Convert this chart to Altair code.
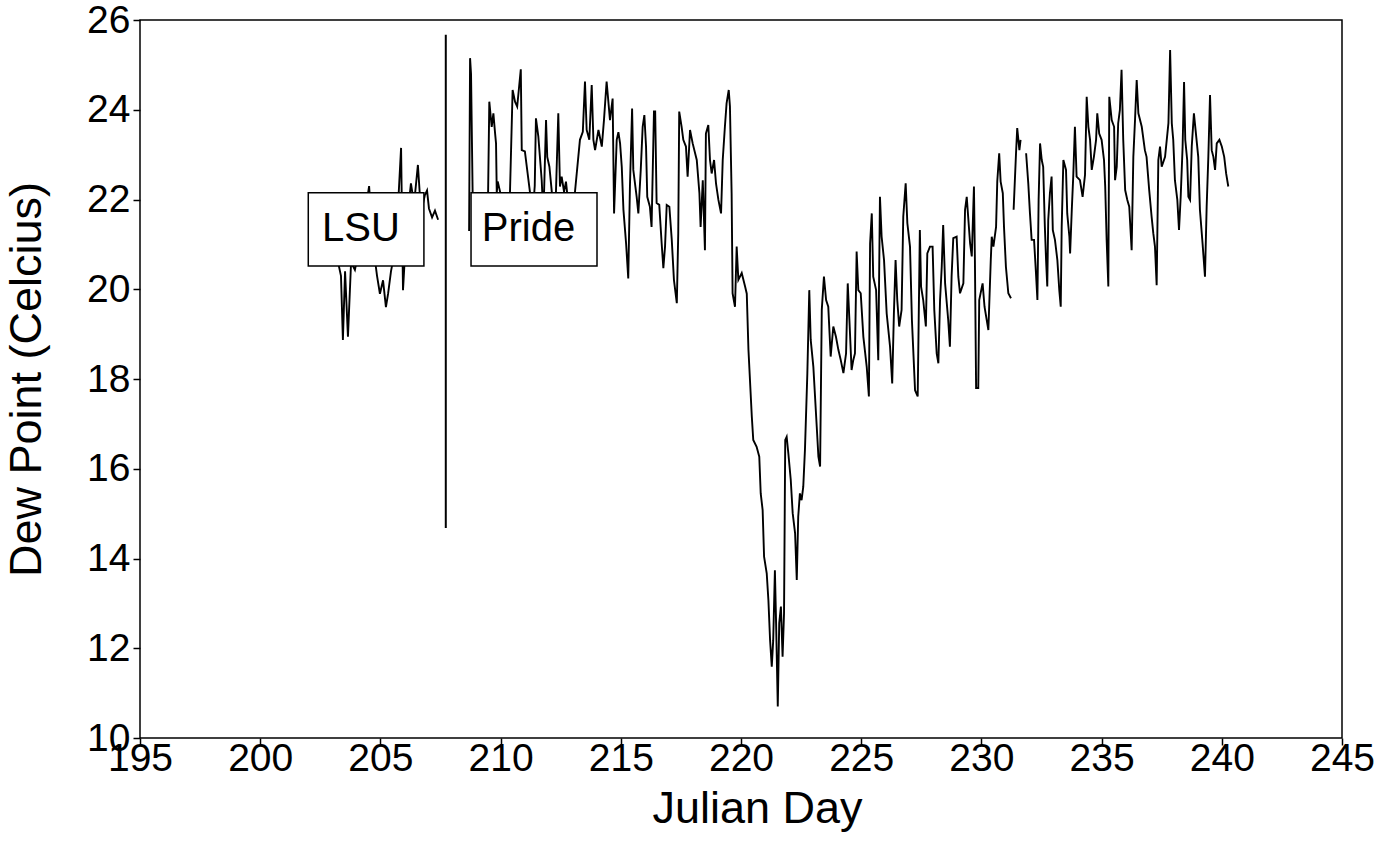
import altair as alt
import pandas as pd

# ---------------- data ----------------
lsu_day = [203.24, 203.36, 203.44, 203.53, 203.65, 203.78, 203.94, 204.23, 204.53, 204.69,
           204.86, 204.98, 205.11, 205.23, 205.32, 205.44, 205.65, 205.86, 205.94, 206.10,
           206.27, 206.40, 206.56, 206.69, 206.85, 206.94, 207.02, 207.15, 207.27, 207.40]
lsu_dp = [20.6, 20.3, 18.87, 20.4, 18.94, 20.6, 20.43, 21.2, 22.3, 21.0,
          20.3, 19.9, 20.2, 19.6, 19.9, 20.4, 21.0, 23.15, 19.98, 21.5,
          22.36, 21.9, 22.77, 21.7, 22.1, 22.2, 21.8, 21.6, 21.75, 21.55]

pride1_day = [208.69, 208.73, 208.77, 208.85, 209.06, 209.31, 209.48, 209.53, 209.63, 209.70,
              209.77, 209.81, 209.84, 209.88, 209.98, 210.18, 210.39, 210.50, 210.60, 210.69,
              210.84, 210.88, 211.01, 211.22, 211.31, 211.42, 211.47, 211.57, 211.71, 211.78,
              211.89, 211.94, 212.03, 212.13, 212.26, 212.40, 212.47, 212.54, 212.64, 212.72,
              212.89, 213.09, 213.30, 213.42, 213.51, 213.58, 213.69, 213.79, 213.86, 213.93,
              214.07, 214.21, 214.30, 214.41, 214.55, 214.66, 214.72, 214.83, 214.90, 214.97,
              215.04, 215.11, 215.22, 215.31, 215.38, 215.47, 215.52, 215.66, 215.73, 215.83,
              215.91, 215.98, 216.05, 216.10, 216.21, 216.28, 216.38, 216.43, 216.49, 216.60,
              216.70, 216.77, 216.84, 216.91, 217.02, 217.12, 217.21, 217.33, 217.39, 217.43,
              217.53, 217.60, 217.71, 217.78, 217.88, 217.99, 218.16, 218.27, 218.32, 218.41,
              218.50, 218.54, 218.64, 218.71, 218.78, 218.88, 218.96, 219.06, 219.17, 219.24,
              219.33, 219.40, 219.49, 219.54, 219.61, 219.65, 219.75, 219.82, 219.89, 220.03,
              220.17, 220.24, 220.31, 220.45, 220.51, 220.65, 220.76, 220.82, 220.90, 220.96,
              221.07, 221.14, 221.21, 221.28, 221.34, 221.41, 221.46, 221.53, 221.59, 221.66,
              221.73, 221.79, 221.84, 221.90, 221.97, 222.07, 222.15, 222.25, 222.32, 222.38,
              222.45, 222.52, 222.59, 222.66, 222.76, 222.84, 222.90, 223.01, 223.15, 223.22,
              223.29, 223.36, 223.45, 223.54, 223.63, 223.73, 223.84, 223.95, 224.05, 224.15,
              224.26, 224.37, 224.44, 224.51, 224.60, 224.67, 224.74, 224.81, 224.88, 224.98,
              225.09, 225.23, 225.32, 225.37, 225.44, 225.50, 225.62, 225.71, 225.78, 225.85,
              225.95, 226.06, 226.20, 226.29, 226.36, 226.43, 226.50, 226.58, 226.68, 226.75,
              226.85, 226.92, 227.03, 227.11, 227.24, 227.35, 227.44, 227.49, 227.58, 227.69,
              227.75, 227.86, 227.97, 228.04, 228.14, 228.21, 228.28, 228.35, 228.41, 228.49,
              228.62, 228.69, 228.76, 228.83, 228.97, 229.04, 229.11, 229.25, 229.32, 229.39,
              229.53, 229.60, 229.69, 229.73, 229.78, 229.87, 229.91, 230.05, 230.13, 230.29,
              230.39, 230.43, 230.50, 230.61, 230.66, 230.74, 230.80, 230.89, 230.94, 231.02,
              231.12, 231.23]
pride1_dp = [21.3, 25.15, 24.8, 21.6, 21.0, 21.5, 22.15, 24.18, 23.62, 23.92,
             23.48, 23.25, 22.15, 22.4, 22.17, 21.5, 22.15, 24.44, 24.18, 24.07,
             24.9, 23.1, 23.07, 22.17, 21.5, 22.3, 23.81, 23.4, 22.43, 21.6,
             23.77, 22.95, 22.73, 22.17, 21.4, 23.92, 22.29, 22.51, 22.17, 22.4,
             21.5, 22.15, 23.33, 23.51, 24.63, 23.55, 23.33, 24.55, 23.33, 23.1,
             23.55, 23.18, 23.77, 24.63, 23.77, 24.25, 21.69, 23.33, 23.5, 23.25,
             22.73, 21.77, 21.02, 20.24, 22.29, 24.03, 22.66, 22.06, 21.69, 22.66,
             23.62, 23.88, 23.18, 22.06, 21.84, 21.39, 23.96, 23.96, 21.92, 21.88,
             21.02, 20.47, 20.95, 21.88, 21.84, 21.1, 20.21, 19.69, 21.25, 23.96,
             23.62, 23.33, 23.18, 22.51, 23.55, 23.25, 22.88, 22.14, 21.39, 22.43,
             20.87, 23.47, 23.66, 22.88, 22.58, 22.88, 22.36, 21.99, 21.69, 22.88,
             23.62, 24.14, 24.44, 24.07, 22.14, 19.91, 19.61, 20.95, 20.21, 20.36,
             20.06, 19.9, 18.65, 17.16, 16.64, 16.49, 16.27, 15.45, 15.08, 14.04,
             13.67, 13.07, 12.18, 11.59, 12.18, 13.74, 12.56, 10.7, 12.56, 12.93,
             11.81, 12.78, 16.64, 16.71, 16.34, 15.75, 15.01, 14.56, 13.52, 14.93,
             15.45, 15.30, 15.60, 16.42, 18.13, 19.98, 18.87, 18.27, 16.94, 16.27,
             16.05, 19.54, 20.28, 19.76, 19.61, 18.50, 19.17, 18.94, 18.65, 18.42,
             18.13, 18.57, 20.13, 19.31, 18.20, 18.42, 18.57, 20.84, 19.98, 19.91,
             18.94, 18.27, 17.61, 21.02, 21.69, 20.28, 19.98, 18.42, 22.06, 21.17,
             20.65, 19.46, 18.72, 17.90, 19.46, 20.65, 19.76, 19.17, 19.54, 21.62,
             22.36, 21.47, 20.95, 19.31, 17.75, 17.61, 21.32, 20.06, 19.76, 19.17,
             20.80, 20.95, 20.95, 19.54, 18.57, 18.35, 19.76, 20.50, 21.43, 20.13,
             19.31, 18.72, 20.28, 21.14, 21.17, 20.28, 19.91, 20.13, 21.77, 22.06,
             21.02, 20.73, 22.29, 20.65, 17.8, 17.8, 19.76, 20.13, 19.61, 19.09,
             20.65, 21.17, 20.95, 21.39, 22.40, 23.03, 22.40, 22.14, 21.39, 20.50,
             19.91, 19.80]

pride2_day = [231.34, 231.44, 231.49, 231.58, 231.63]
pride2_dp = [21.77, 23.03, 23.59, 23.10, 23.33]

pride3_day = [231.86, 231.95, 232.02, 232.09, 232.19, 232.27, 232.33, 232.38, 232.44, 232.51,
              232.57, 232.64, 232.69, 232.74, 232.78, 232.85, 232.92, 232.97, 233.06, 233.16,
              233.24, 233.30, 233.34, 233.41, 233.52, 233.57, 233.66, 233.69, 233.76, 233.82,
              233.89, 233.96, 234.10, 234.21, 234.31, 234.38, 234.45, 234.52, 234.59, 234.68,
              234.77, 234.82, 234.90, 235.00, 235.10, 235.15, 235.21, 235.28, 235.32, 235.42,
              235.52, 235.56, 235.63, 235.69, 235.76, 235.83, 235.90, 235.98, 236.07, 236.15,
              236.25, 236.32, 236.39, 236.46, 236.53, 236.67, 236.80, 236.87, 236.98, 237.08,
              237.15, 237.22, 237.29, 237.36, 237.43, 237.50, 237.64, 237.78, 237.85, 237.92,
              237.98, 238.05, 238.15, 238.22, 238.29, 238.37, 238.43, 238.48, 238.56, 238.61,
              238.68, 238.75, 238.84, 238.95, 239.02, 239.09, 239.20, 239.30, 239.37, 239.44,
              239.51, 239.58, 239.65, 239.72, 239.79, 239.90, 240.00, 240.10, 240.18, 240.27]
pride3_dp = [23.03, 22.36, 21.69, 21.10, 21.10, 20.36, 19.76, 21.99, 23.25, 22.88,
             22.73, 21.39, 20.65, 20.06, 21.54, 22.14, 22.51, 21.32, 21.10, 20.65,
             19.98, 19.61, 21.39, 22.88, 22.66, 21.69, 21.17, 20.80, 21.77, 22.51,
             23.62, 22.51, 22.43, 22.06, 22.55, 24.29, 23.62, 23.33, 22.66, 22.95,
             23.33, 23.92, 23.47, 23.33, 22.88, 22.29, 21.10, 20.06, 24.29, 23.77,
             23.62, 22.43, 22.73, 23.70, 23.99, 24.89, 23.33, 22.21, 21.99, 21.84,
             20.87, 22.95, 23.77, 24.66, 23.92, 23.62, 23.10, 22.95, 22.21, 21.62,
             21.25, 20.95, 20.09, 22.88, 23.18, 22.73, 22.95, 23.70, 25.33, 23.70,
             23.33, 22.43, 21.99, 21.32, 22.06, 23.18, 24.62, 23.33, 22.88, 22.06,
             21.99, 23.18, 23.92, 23.33, 22.95, 21.77, 21.02, 20.28, 21.84, 22.95,
             24.33, 23.10, 22.95, 22.66, 23.25, 23.33, 23.18, 22.95, 22.58, 22.29]

# vertical separator between the two ships' records
sep_day = [207.72]
sep_low = [14.68]
sep_high = [25.67]

# label boxes
box_label = ["LSU", "Pride"]
box_x1 = [202.0, 208.77]
box_x2 = [206.81, 214.01]
box_y1 = [20.52, 20.52]
box_y2 = [22.15, 22.15]
label_x = [204.19, 211.16]
label_y = [21.34, 21.34]

x_ticks = [195, 200, 205, 210, 215, 220, 225, 230, 235, 240, 245]
y_ticks = [10, 12, 14, 16, 18, 20, 22, 24, 26]

# ---------------- tables ----------------
rows = []
for seg, (dd, vv) in enumerate([(lsu_day, lsu_dp), (pride1_day, pride1_dp),
                                (pride2_day, pride2_dp), (pride3_day, pride3_dp)]):
    for d, v in zip(dd, vv):
        rows.append({"day": d, "dp": v, "seg": seg})
df = pd.DataFrame(rows)
sep_df = pd.DataFrame({"day": sep_day, "lo": sep_low, "hi": sep_high})
box_df = pd.DataFrame({"label": box_label, "x1": box_x1, "x2": box_x2,
                       "y1": box_y1, "y2": box_y2, "lx": label_x, "ly": label_y})

FONT = "Liberation Sans"
x_scale = alt.Scale(domain=[195, 245], nice=False, zero=False)
y_scale = alt.Scale(domain=[10, 26], nice=False, zero=False)

x_axis = alt.Axis(values=x_ticks, title="Julian Day", format="d",
                  labelPadding=-6, titleX=617, titleY=84,
                  titleBaseline="alphabetic", titleAlign="center")
y_axis = alt.Axis(values=y_ticks, title="Dew Point (Celcius)", format="d",
                  labelPadding=3, titleX=-114, titleY=359,
                  titleBaseline="middle", titleAlign="center", titleAngle=-90)

line = alt.Chart(df).mark_line(color="black", strokeWidth=1.9).encode(
    x=alt.X("day:Q", scale=x_scale, axis=x_axis),
    y=alt.Y("dp:Q", scale=y_scale, axis=y_axis),
    detail="seg:N",
)

sep = alt.Chart(sep_df).mark_rule(color="black", strokeWidth=2).encode(
    x=alt.X("day:Q", scale=x_scale),
    y=alt.Y("lo:Q", scale=y_scale),
    y2="hi:Q",
)

boxes = alt.Chart(box_df).mark_rect(fill="white", stroke="black", strokeWidth=1.5).encode(
    x=alt.X("x1:Q", scale=x_scale),
    x2="x2:Q",
    y=alt.Y("y1:Q", scale=y_scale),
    y2="y2:Q",
)

labels = alt.Chart(box_df).mark_text(font=FONT, fontSize=40, color="black",
                                     align="center", baseline="middle").encode(
    x=alt.X("lx:Q", scale=x_scale),
    y=alt.Y("ly:Q", scale=y_scale),
    text="label:N",
)

chart = (line + sep + boxes + labels).properties(
    width=1202, height=718,
    autosize=alt.AutoSizeParams(type="none"),
    padding={"left": 140, "top": 20, "right": 35, "bottom": 115},
    background="white",
).configure_view(
    stroke="black", strokeWidth=1.5
).configure_axis(
    grid=False, domain=False,
    labelFont=FONT, labelFontSize=39, labelColor="black",
    titleFont=FONT, titleFontSize=45, titleFontWeight="normal", titleColor="black",
    tickColor="black", tickSize=7, tickWidth=1.5,
    labelFlush=False, labelOverlap=False,
)

chart.save("out.html", embed_options={"renderer": "svg", "actions": False})
